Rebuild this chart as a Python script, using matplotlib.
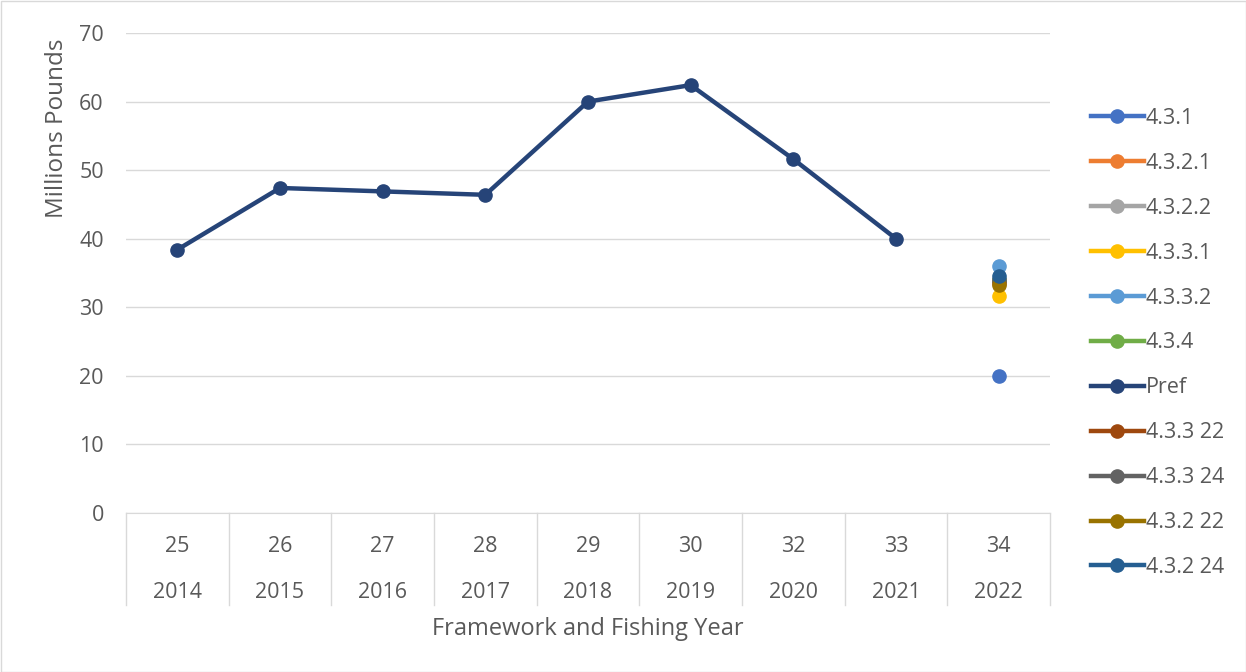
import matplotlib
matplotlib.use("Agg")
import matplotlib.pyplot as plt
from matplotlib.lines import Line2D
import numpy as np

framework = ["25", "26", "27", "28", "29", "30", "32", "33", "34"]
years = ["2014", "2015", "2016", "2017", "2018", "2019", "2020", "2021", "2022"]

# Pref series (historical), no 2022 value
pref = [38.4, 47.4, 46.9, 46.4, 60.0, 62.4, 51.6, 40.0, None]

# 2022-only alternatives
series_names = ["4.3.1", "4.3.2.1", "4.3.2.2", "4.3.3.1", "4.3.3.2", "4.3.4",
                "Pref", "4.3.3 22", "4.3.3 24", "4.3.2 22", "4.3.2 24"]
series_2022 = {
    "4.3.1": 20.0,
    "4.3.2.1": 34.0,
    "4.3.2.2": 34.0,
    "4.3.3.1": 31.7,
    "4.3.3.2": 36.0,
    "4.3.4": 34.0,
    "4.3.3 22": 33.5,
    "4.3.3 24": 34.0,
    "4.3.2 22": 33.3,
    "4.3.2 24": 34.6,
}
colors = {
    "4.3.1": "#4472C4", "4.3.2.1": "#ED7D31", "4.3.2.2": "#A5A5A5",
    "4.3.3.1": "#FFC000", "4.3.3.2": "#5B9BD5", "4.3.4": "#70AD47",
    "Pref": "#264478", "4.3.3 22": "#9E480E", "4.3.3 24": "#636363",
    "4.3.2 22": "#997300", "4.3.2 24": "#255E91",
}

plt.rcParams['font.family'] = ['Open Sans', 'DejaVu Sans']
txt = "#595959"
fs = 15.5
W, H = 1246, 672
fig = plt.figure(figsize=(W/100, H/100), dpi=100)
ax = fig.add_axes([126/W, 1-513/H, (1050-126)/W, (513-33)/H])

x = np.arange(len(years))
for name in series_names:
    c = colors[name]
    if name == "Pref":
        ys = [np.nan if v is None else v for v in pref]
        ax.plot(x, ys, color=c, lw=3.2, marker='o', ms=9.5, zorder=3)
    else:
        ax.plot([x[-1]], [series_2022[name]], color=c, marker='o', ms=9.5,
                lw=0, zorder=3)

ax.set_xlim(-0.5, len(years)-0.5)
ax.set_ylim(0, 70)
ax.set_yticks(range(0, 71, 10))
ax.yaxis.grid(True, color="#d9d9d9", lw=1)
ax.set_axisbelow(True)
for s in ["top", "right", "left"]:
    ax.spines[s].set_visible(False)
ax.spines["bottom"].set_color("#d9d9d9")
ax.tick_params(axis='y', length=0, labelsize=fs, labelcolor=txt, pad=16)
ax.set_xticks([])

fig.text(57/W, 1-128/H, "Millions Pounds", rotation=90, ha='center', va='center',
         fontsize=17.5, color=txt)

trans = ax.get_xaxis_transform()
ph = (513-33)
def ay(py):
    return (513-py)/ph
for i in range(len(years)):
    ax.text(x[i], ay(546), framework[i], transform=trans, ha='center', va='center',
            fontsize=fs, color=txt)
    ax.text(x[i], ay(592), years[i], transform=trans, ha='center', va='center',
            fontsize=fs, color=txt)
for b in np.arange(-0.5, len(years), 1.0):
    ax.plot([b, b], [0, ay(605)], transform=trans, color="#d9d9d9", lw=1,
            clip_on=False)
ax.text(0.5, ay(629), "Framework and Fishing Year", transform=ax.transAxes,
        ha='center', va='center', fontsize=17, color=txt)

handles = [Line2D([0], [0], color=colors[n], lw=3.2, marker='o', ms=9.5)
           for n in series_names]
leg = fig.legend(handles, series_names, loc='upper left',
                 bbox_to_anchor=(1091/W, 1-108/H), frameon=False,
                 fontsize=fs, labelcolor=txt, handlelength=2.45,
                 handletextpad=0.1, labelspacing=1.11, borderaxespad=0,
                 borderpad=0)

fig.patches.append(plt.Rectangle((0.5/W, 0.5/H), 1-1/W, 1-1/H, transform=fig.transFigure,
                                 fill=False, edgecolor="#d9d9d9", lw=1))
fig.savefig("out.png", dpi=100)
